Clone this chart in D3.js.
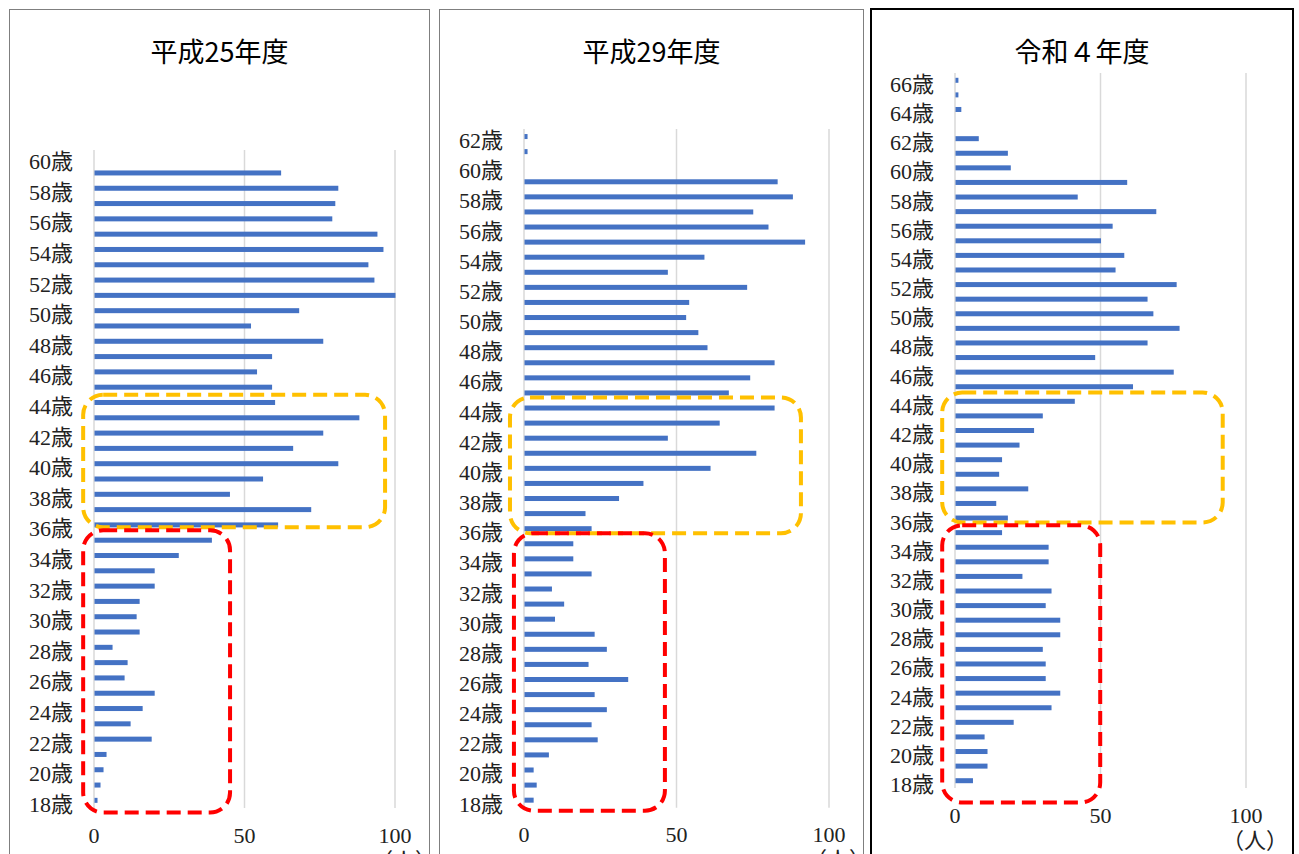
<!DOCTYPE html>
<html>
<head>
<meta charset="utf-8">
<script src="https://cdn.jsdelivr.net/npm/d3@7"></script>
<style>
	body { margin: 0; background: #fff; }
	.title { font-family: "Noto Sans CJK JP", sans-serif; font-size: 27px; fill: #000; }
	.tick { font-family: "Liberation Serif", "Noto Sans CJK JP", serif; font-size: 22px; fill: #222; }
</style>
</head>
<body>
<svg id="chart" width="1299" height="854"></svg>
<script>
// 人数 (18歳から1歳刻み)
var countsH25 = [1, 2, 3, 4, 19, 12, 16, 20, 10, 11, 6, 15, 14, 15, 20, 20, 28, 39, 61, 72, 45, 56, 81, 66, 76, 88, 60, 59, 54, 59, 76, 52, 68, 100, 93, 91, 96, 94, 79, 80, 81, 62, 0];
var countsH29 = [3, 4, 3, 8, 24, 22, 27, 23, 34, 21, 27, 23, 10, 13, 9, 22, 16, 16, 22, 20, 31, 39, 61, 76, 47, 64, 82, 67, 74, 82, 60, 57, 53, 54, 73, 47, 59, 92, 80, 75, 88, 83, 0, 1, 1];
var countsR4 = [6, 11, 11, 10, 20, 33, 36, 31, 31, 30, 36, 36, 31, 33, 23, 32, 32, 16, 18, 14, 25, 15, 16, 22, 27, 30, 41, 61, 75, 48, 66, 77, 68, 66, 76, 55, 58, 50, 54, 69, 42, 59, 19, 18, 8, 0, 2, 1, 1];

var titles = ["平成25年度", "平成29年度", "令和４年度"];
var minAge = 18;
var xTicks = [0, 50, 100];
var unitLabel = "（人）";

// highlight boxes: [upper age, lower age, min value, max value]
var yellowBoxes = [[44.5, 35.85, -3.6, 96.7], [44.7, 35.7, -4.6, 90.8], [44.6, 35.7, -4.4, 92]];
var redBoxes = [[35.65, 17.2, -3.6, 45.2], [35.7, 17.3, -3.3, 46.2], [35.5, 16.5, -4.4, 49.9]];

var svg = d3.select("#chart");

var panels = [
	{ data: countsH25, box: [9.5, 9.5, 420, 870], border: "#7f7f7f", bw: 1, x0: 94, x1: 395, top: 150, bottom: 808 },
	{ data: countsH29, box: [439.5, 9.5, 424, 870], border: "#7f7f7f", bw: 1, x0: 524, x1: 829, top: 129, bottom: 807.7 },
	{ data: countsR4, box: [871, 9, 422, 870], border: "#000", bw: 2, x0: 955, x1: 1246, top: 73, bottom: 788 }
];

panels.forEach(function(p, i) {
	var g = svg.append("g");
	var ages = p.data.map(function(d, k) { return minAge + k; });

	// panel frame
	g.append("rect")
		.attr("x", p.box[0])
		.attr("y", p.box[1])
		.attr("width", p.box[2])
		.attr("height", p.box[3])
		.attr("fill", "#fff")
		.attr("stroke", p.border)
		.attr("stroke-width", p.bw);

	g.append("text")
		.attr("class", "title")
		.attr("x", p.box[0] + p.box[2] / 2)
		.attr("y", 50)
		.attr("text-anchor", "middle")
		.attr("dominant-baseline", "central")
		.text(titles[i]);

	var x = d3.scaleLinear().domain([0, 100]).range([p.x0, p.x1]);
	var y = d3.scaleBand()
		.domain(ages.slice().reverse())
		.range([p.top, p.bottom]);
	var step = y.step();
	var ageY = function(a) {
		return y(minAge) + step / 2 - (a - minAge) * step;
	};

	// gridlines
	g.selectAll(".grid")
		.data(xTicks)
		.enter()
		.append("line")
		.attr("x1", d => x(d))
		.attr("x2", d => x(d))
		.attr("y1", p.top)
		.attr("y2", p.bottom)
		.attr("stroke", "#d9d9d9")
		.attr("stroke-width", 1.5);

	// bars
	var bh = 5;
	g.selectAll(".bar")
		.data(p.data.map(function(v, k) { return { age: ages[k], v: v }; }).filter(d => d.v > 0))
		.enter()
		.append("rect")
		.attr("x", x(0) + 0.5)
		.attr("y", d => y(d.age) + step / 2 - bh / 2)
		.attr("width", d => x(d.v) - x(0))
		.attr("height", bh)
		.attr("fill", "#4472c4");

	// age labels, every other year
	g.selectAll(".ylab")
		.data(ages.filter(a => (a - minAge) % 2 === 0))
		.enter()
		.append("text")
		.attr("class", "tick")
		.attr("x", x(0) - 21)
		.attr("y", d => y(d) + step / 2 + 4)
		.attr("text-anchor", "end")
		.attr("dominant-baseline", "central")
		.text(d => d + "歳");

	// value labels
	var tickY = p.bottom + 27;
	g.selectAll(".xlab")
		.data(xTicks)
		.enter()
		.append("text")
		.attr("class", "tick")
		.attr("x", d => x(d))
		.attr("y", tickY)
		.attr("text-anchor", "middle")
		.attr("dominant-baseline", "central")
		.text(d => d);

	g.append("text")
		.attr("class", "tick")
		.attr("x", x(100) + 9)
		.attr("y", tickY + 25)
		.attr("text-anchor", "middle")
		.attr("dominant-baseline", "central")
		.text(unitLabel);

	// dashed highlight boxes
	[[yellowBoxes[i], "#ffc000"], [redBoxes[i], "#ff0000"]].forEach(function(b) {
		var r = b[0];
		g.append("rect")
			.attr("x", x(r[2]))
			.attr("y", ageY(r[0]))
			.attr("width", x(r[3]) - x(r[2]))
			.attr("height", ageY(r[1]) - ageY(r[0]))
			.attr("rx", 20)
			.attr("ry", 20)
			.attr("fill", "none")
			.attr("stroke", b[1])
			.attr("stroke-width", 4)
			.attr("stroke-dasharray", "14,7");
	});
});
</script>
</body>
</html>
